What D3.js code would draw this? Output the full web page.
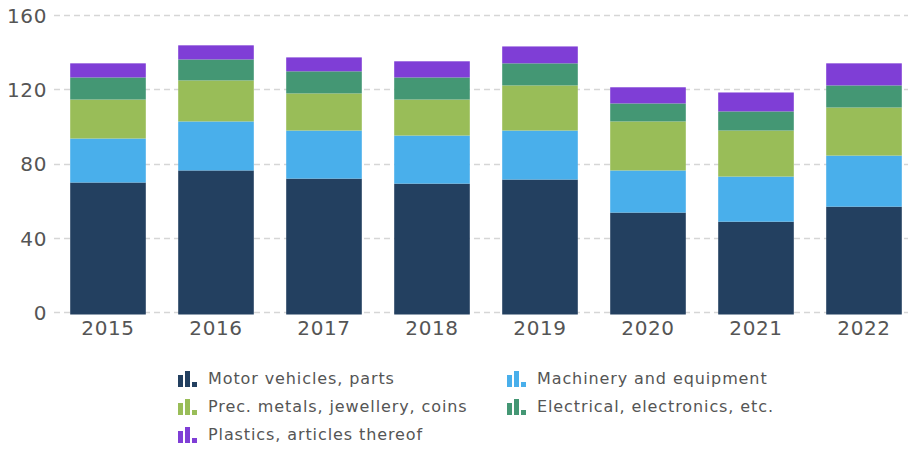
<!DOCTYPE html>
<html>
<head>
<meta charset="utf-8">
<script src="https://cdn.jsdelivr.net/npm/d3@7"></script>
<style>
  body { margin: 0; background: #fff; }
  svg { display: block; font-family: "DejaVu Sans", Verdana, sans-serif; }
</style>
</head>
<body>
<div id="chart"></div>
<script>
// data (values, stacked bottom to top)
const years = ["2015", "2016", "2017", "2018", "2019", "2020", "2021", "2022"];
const seriesNames = [
    "Motor vehicles, parts",
    "Machinery and equipment",
    "Prec. metals, jewellery, coins",
    "Electrical, electronics, etc.",
    "Plastics, articles thereof"
];
const motorVehicles = [70.3, 76.8, 72.4, 69.7, 71.9, 54.1, 49.2, 57.3];
const machinery     = [23.7, 26.4, 25.9, 25.9, 26.4, 22.7, 24.3, 27.5];
const precMetals    = [21.0, 22.1, 20.0, 19.4, 24.3, 26.4, 24.8, 25.9];
const electrical    = [11.9, 11.3, 11.9, 11.9, 11.9,  9.7, 10.3, 11.9];
const plastics      = [ 7.6,  7.6,  7.5,  8.7,  9.1,  8.7, 10.2, 11.9];
const yTicks = [0, 40, 80, 120, 160];
const colors = ["#234060", "#49afeb", "#99bd58", "#449774", "#7f3ed6"];

const config = {
    width: 908,
    height: 449,
    left: 54,
    right: 908,
    top: 16,
    bottom: 313
};

const seriesValues = [motorVehicles, machinery, precMetals, electrical, plastics];

// build table for the stack layout
const table = years.map((yr, i) => {
    const row = { year: yr };
    seriesNames.forEach((name, s) => { row[name] = seriesValues[s][i]; });
    return row;
});

const svg = d3.select("#chart")
    .append("svg")
    .attr("width", config.width)
    .attr("height", config.height);

const x = d3.scaleBand()
    .domain(years)
    .range([config.left, config.left + 864])
    .paddingInner(0.3)
    .paddingOuter(0.15);

const y = d3.scaleLinear()
    .domain([0, 160])
    .range([config.bottom, config.top]);

const color = d3.scaleOrdinal().domain(seriesNames).range(colors);

// gridlines
svg.append("g")
    .selectAll("line")
    .data(yTicks)
    .join("line")
    .attr("x1", config.left)
    .attr("x2", config.right)
    .attr("y1", d => Math.round(y(d)) - 0.5)
    .attr("y2", d => Math.round(y(d)) - 0.5)
    .attr("stroke", "#d6d6d6")
    .attr("stroke-width", 1.5)
    .attr("stroke-dasharray", "6,4");

// y axis labels
const yAxis = d3.axisLeft(y).tickValues(yTicks).tickSize(0).tickPadding(7);
svg.append("g")
    .attr("transform", `translate(${config.left},0)`)
    .call(yAxis)
    .call(g => g.select(".domain").remove())
    .selectAll("text")
    .attr("font-size", 20)
    .attr("letter-spacing", "0.6px")
    .attr("font-family", "DejaVu Sans, Verdana, sans-serif")
    .attr("fill", "#555");

// stacked bars
const stack = d3.stack().keys(seriesNames);
const layers = stack(table);

svg.append("g")
    .selectAll("g")
    .data(layers)
    .join("g")
    .attr("fill", d => color(d.key))
    .selectAll("rect")
    .data(d => d)
    .join("rect")
    .attr("x", d => x(d.data.year))
    .attr("width", x.bandwidth())
    .attr("y", d => y(d[1]))
    .attr("height", d => y(d[0]) - y(d[1]) + (d[0] === 0 ? 1.5 : 0));

// x axis labels
const xAxis = d3.axisBottom(x).tickSize(0).tickPadding(8);
svg.append("g")
    .attr("transform", `translate(0,${config.bottom})`)
    .call(xAxis)
    .call(g => g.select(".domain").remove())
    .selectAll("text")
    .attr("font-size", 20)
    .attr("letter-spacing", "0.6px")
    .attr("font-family", "DejaVu Sans, Verdana, sans-serif")
    .attr("fill", "#555");

// legend, two columns
const legendX = [178, 507];
const legendY = [378, 406, 434];
const legend = svg.append("g");

const items = legend.selectAll("g")
    .data(seriesNames)
    .join("g")
    .attr("transform", (d, i) => `translate(${legendX[i % 2]},${legendY[Math.floor(i / 2)]})`);

// little bar-chart icon
const iconBars = [{ x: 0, h: 12 }, { x: 7, h: 16 }, { x: 14, h: 5 }];
items.selectAll("rect")
    .data(d => iconBars.map(b => ({ ...b, key: d })))
    .join("rect")
    .attr("x", b => b.x)
    .attr("y", b => 9 - b.h)
    .attr("width", 5)
    .attr("height", b => b.h)
    .attr("fill", b => color(b.key));

items.append("text")
    .attr("x", 30)
    .attr("y", 0)
    .attr("dy", "0.35em")
    .attr("font-size", 16)
    .attr("letter-spacing", "0.9px")
    .attr("fill", "#555")
    .text(d => d);
</script>
</body>
</html>
